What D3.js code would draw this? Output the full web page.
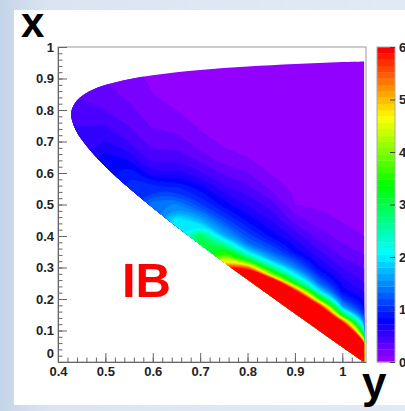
<!DOCTYPE html>
<html>
<head>
<meta charset="utf-8">
<script src="https://cdn.jsdelivr.net/npm/d3@7"></script>
<style>
  body { margin: 0; background: #dde6f1; }
  svg { display: block; }
</style>
</head>
<body>
<svg id="chart" width="405" height="411"></svg>
<script>
// horizontal axis is the "y" variable, vertical axis is the "x" variable
var colY = [0.40, 0.45, 0.50, 0.55, 0.60, 0.65, 0.70, 0.75, 0.80, 0.85, 0.90, 0.95, 1.00, 1.05];
var rowX = [0, 0.025, 0.05, 0.075, 0.1, 0.125, 0.15, 0.175, 0.2, 0.225, 0.25, 0.275, 0.3, 0.325,
            0.35, 0.375, 0.4, 0.45, 0.5, 0.55, 0.6, 0.65, 0.7, 0.75, 0.8, 0.85, 0.9, 0.95, 1.0];

// z, one list per column of colY (values along rowX)
var zGrid = [
  [0.6, 0.6, 0.6, 0.6, 0.6, 0.6, 0.6, 0.6, 0.6, 0.6, 0.6, 0.6, 0.6, 0.6, 0.6, 0.6, 0.6, 0.6, 0.6, 0.6, 0.6, 0.6, 0.6, 0.5, 0.42, 0.36, 0.32, 0.28, 0.25],
  [0.6, 0.6, 0.6, 0.6, 0.6, 0.6, 0.6, 0.6, 0.6, 0.6, 0.6, 0.6, 0.6, 0.6, 0.6, 0.6, 0.6, 0.6, 0.6, 0.6, 0.6, 0.6, 0.58, 0.47, 0.4, 0.34, 0.3, 0.27, 0.24],
  [0.78, 0.78, 0.78, 0.78, 0.78, 0.78, 0.78, 0.78, 0.78, 0.78, 0.78, 0.78, 0.78, 0.78, 0.78, 0.78, 0.78, 0.78, 0.78, 0.78, 0.78, 0.78, 0.6, 0.48, 0.36, 0.28, 0.23, 0.2, 0.17],
  [1.0, 1.0, 1.0, 1.0, 1.0, 1.0, 1.0, 1.0, 1.0, 1.0, 1.0, 1.0, 1.0, 1.0, 1.0, 1.0, 1.0, 1.0, 1.0, 1.0, 0.95, 0.66, 0.47, 0.35, 0.27, 0.21, 0.16, 0.13, 0.1],
  [1.4, 1.4, 1.4, 1.4, 1.4, 1.4, 1.4, 1.4, 1.4, 1.4, 1.4, 1.4, 1.4, 1.4, 1.4, 1.4, 1.4, 1.4, 1.42, 1.0, 0.6, 0.4, 0.3, 0.22, 0.16, 0.12, 0.1, 0.08, 0.06],
  [2.0, 2.0, 2.0, 2.0, 2.0, 2.0, 2.0, 2.0, 2.0, 2.0, 2.0, 2.0, 2.0, 2.0, 2.0, 2.0, 2.0, 2.05, 1.45, 1.0, 0.64, 0.43, 0.3, 0.19, 0.12, 0.09, 0.06, 0.05, 0.04],
  [3.0, 3.0, 3.0, 3.0, 3.0, 3.0, 3.0, 3.0, 3.0, 3.0, 3.0, 3.0, 3.0, 3.0, 3.0, 3.1, 2.9, 1.7, 1.1, 0.8, 0.5, 0.3, 0.16, 0.1, 0.08, 0.05, 0.04, 0.03, 0.02],
  [16, 15.5, 15, 14.5, 14, 13, 12, 11, 10, 9, 8, 7, 5.8, 4.5, 3.5, 2.5, 1.7, 1.15, 0.78, 0.53, 0.33, 0.15, 0.1, 0.07, 0.05, 0.04, 0.03, 0.03, 0.02],
  [30, 28.5, 27, 25, 23.5, 22, 20, 18, 16.5, 15, 13, 9, 5.4, 3.1, 1.95, 1.36, 1.15, 0.8, 0.58, 0.4, 0.25, 0.12, 0.09, 0.05, 0.04, 0.03, 0.03, 0.02, 0.02],
  [40, 38, 36, 33, 31, 28, 26, 23, 21, 15, 8, 4.3, 2.6, 1.7, 1.27, 1.03, 0.8, 0.59, 0.42, 0.21, 0.11, 0.08, 0.05, 0.04, 0.03, 0.03, 0.02, 0.02, 0.02],
  [40, 37, 33.5, 30, 27, 23.8, 20.5, 15, 9, 6, 3.2, 2.1, 1.47, 1.12, 0.8, 0.67, 0.55, 0.3, 0.12, 0.1, 0.07, 0.05, 0.04, 0.03, 0.03, 0.02, 0.02, 0.02, 0.02],
  [40, 35, 30, 25, 20, 14.5, 9, 6.5, 3.6, 2, 1.33, 1.0, 0.75, 0.62, 0.5, 0.4, 0.3, 0.17, 0.1, 0.08, 0.05, 0.04, 0.03, 0.03, 0.02, 0.02, 0.02, 0.02, 0.02],
  [40, 32, 24.4, 16.7, 9, 6, 3, 1.6, 1.1, 0.78, 0.67, 0.56, 0.47, 0.38, 0.3, 0.24, 0.19, 0.11, 0.08, 0.05, 0.04, 0.03, 0.03, 0.02, 0.02, 0.02, 0.02, 0.01, 0.01],
  [30, 16.7, 5.4, 2.7, 1.58, 1.22, 0.98, 0.78, 0.67, 0.56, 0.47, 0.4, 0.33, 0.27, 0.21, 0.15, 0.11, 0.085, 0.06, 0.05, 0.04, 0.03, 0.03, 0.02, 0.02, 0.02, 0.01, 0.01, 0.01]
];

// edge of the filled region
var edgeY    = [0.428, 0.43, 0.44, 0.45, 0.47, 0.50, 0.55, 0.60, 0.65, 0.70, 0.75, 0.80, 0.85, 0.90, 0.95, 1.00, 1.046];
var edgeLow  = [0.786, 0.765, 0.729, 0.706, 0.668, 0.621, 0.552, 0.490, 0.430, 0.373, 0.317, 0.262, 0.208, 0.154, 0.101, 0.048, 0];
var edgeHigh = [0.786, 0.805, 0.830, 0.844, 0.862, 0.879, 0.898, 0.910, 0.920, 0.927, 0.933, 0.938, 0.942, 0.946, 0.949, 0.952, 0.954];

var xTicks = [0.4, 0.5, 0.6, 0.7, 0.8, 0.9, 1.0];
var yTicks = [0, 0.1, 0.2, 0.3, 0.4, 0.5, 0.6, 0.7, 0.8, 0.9, 1.0];
var zTicks = [0, 1, 2, 3, 4, 5, 6];
var zMax = 6;
var nLevels = 50;

var font = '"Liberation Sans", Arial, Helvetica, sans-serif';
var svg = d3.select('#chart');
var defs = svg.append('defs');

// slide background
var bg = defs.append('linearGradient').attr('id', 'bg').attr('x1', 0).attr('x2', 1).attr('y1', 0).attr('y2', 0);
bg.append('stop').attr('offset', '0%').attr('stop-color', '#c5d4e9');
bg.append('stop').attr('offset', '12%').attr('stop-color', '#dbe5f1');
bg.append('stop').attr('offset', '100%').attr('stop-color', '#e1e9f4');
svg.append('rect').attr('width', 405).attr('height', 411).attr('fill', 'url(#bg)');
svg.append('rect').attr('x', 14).attr('y', 10).attr('width', 391).attr('height', 395).attr('fill', '#fff');

var plot = {left: 58, right: 366, top: 47, bottom: 362};
var sx = d3.scaleLinear().domain([0.4, 1.05]).range([plot.left, plot.right]);
var sy = d3.scaleLinear().domain([0, 1]).range([plot.bottom, plot.top]);
var colIdx = d3.scaleLinear().domain(d3.range(colY.length)).range(colY);
var rowIdx = d3.scaleLinear().domain(d3.range(rowX.length)).range(rowX);

function palette(i) {
  return d3.hsl(280 - (i + 1) * 280 / nLevels, 1, 0.5).formatHex();
}

// region outline -> clip
var outline = edgeY.map(function(y, i) { return [y, edgeLow[i]]; }).reverse()
  .concat(edgeY.slice(1).map(function(y, i) { return [y, edgeHigh[i + 1]]; }));
var outlineLine = d3.line()
  .x(function(d) { return sx(d[0]); })
  .y(function(d) { return sy(d[1]); })
  .curve(d3.curveCatmullRom.alpha(0.5));
defs.append('clipPath').attr('id', 'region')
  .append('path').attr('d', outlineLine(outline) + 'Z');
defs.append('filter').attr('id', 'soft').attr('x', -0.05).attr('y', -0.05).attr('width', 1.1).attr('height', 1.1)
  .append('feGaussianBlur').attr('stdDeviation', 0.5);

// filled contours
var values = [];
rowX.forEach(function(rx, j) {
  colY.forEach(function(cy, i) { values.push(zGrid[i][j]); });
});
var thresholds = d3.range(nLevels).map(function(i) { return i * zMax / nLevels; });
var bands = d3.contours().size([colY.length, rowX.length]).thresholds(thresholds)(values);

// contour rings -> pixels, smoothed a little so grid kinks don't show
var ringLine = d3.line().curve(d3.curveBasisClosed);
function bandPath(mp) {
  var d = '';
  mp.coordinates.forEach(function(poly) {
    poly.forEach(function(ring) {
      var pts = ring.slice(0, -1).map(function(p) {
        return [sx(colIdx(p[0] - 0.5)), sy(rowIdx(p[1] - 0.5))];
      });
      if (pts.length > 2) d += ringLine(pts);
    });
  });
  return d;
}

svg.append('g').attr('filter', 'url(#soft)')
  .append('g').attr('clip-path', 'url(#region)')
  .selectAll('path').data(bands).enter().append('path')
  .attr('d', bandPath)
  .attr('fill-rule', 'evenodd')
  .attr('fill', function(d, i) { return palette(i); })
  .attr('stroke', function(d, i) { return palette(i); })
  .attr('stroke-width', 0.6);

// frame
svg.append('rect')
  .attr('x', plot.left).attr('y', plot.top)
  .attr('width', plot.right - plot.left).attr('height', plot.bottom - plot.top)
  .attr('fill', 'none').attr('stroke', '#9a9a9a').attr('stroke-width', 1);

// axes (ticks inside, ROOT style)
function minorTicks(lo, hi, step) {
  return d3.range(Math.round((hi - lo) / step) + 1).map(function(k) { return +(lo + k * step).toFixed(3); });
}
var axisStroke = '#666';
svg.append('g').attr('transform', 'translate(0,' + plot.bottom + ')')
  .call(d3.axisBottom(sx).tickValues(minorTicks(0.4, 1.04, 0.02)).tickSize(-4.5).tickFormat('').tickSizeOuter(0))
  .call(function(g) { g.select('path.domain').remove(); });
var gx = svg.append('g').attr('transform', 'translate(0,' + plot.bottom + ')')
  .call(d3.axisBottom(sx).tickValues(xTicks).tickSize(-9).tickSizeOuter(0).tickPadding(5).tickFormat(d3.format('~g')));
svg.append('g').attr('transform', 'translate(' + plot.left + ',0)')
  .call(d3.axisLeft(sy).tickValues(minorTicks(0, 1, 0.02)).tickSize(-4.5).tickFormat('').tickSizeOuter(0))
  .call(function(g) { g.select('path.domain').remove(); });
var gy = svg.append('g').attr('transform', 'translate(' + plot.left + ',0)')
  .call(d3.axisLeft(sy).tickValues(yTicks).tickSize(-9).tickSizeOuter(0).tickPadding(4).tickFormat(d3.format('~g')));
gy.selectAll('.tick text').filter(function(d) { return d === 0; }).attr('dy', '-0.35em');

svg.selectAll('.tick line').attr('stroke', axisStroke);
[gx, gy].forEach(function(g) {
  g.selectAll('path.domain').attr('stroke', axisStroke);
  g.selectAll('text').attr('font-family', font).attr('font-size', 13)
    .attr('font-weight', 'bold').attr('fill', '#222');
});

// colour bar
var bar = {left: 377, right: 395};
var sz = d3.scaleLinear().domain([0, zMax]).range([plot.bottom, plot.top]);
svg.append('g').selectAll('rect').data(thresholds).enter().append('rect')
  .attr('x', bar.left).attr('width', bar.right - bar.left)
  .attr('y', function(t) { return sz(t + zMax / nLevels); })
  .attr('height', function(t) { return sz(t) - sz(t + zMax / nLevels) + 0.3; })
  .attr('fill', function(t, i) { return palette(i); });
svg.append('rect').attr('x', bar.left).attr('y', plot.top)
  .attr('width', bar.right - bar.left).attr('height', plot.bottom - plot.top)
  .attr('fill', 'none').attr('stroke', '#aaa').attr('stroke-width', 1);
var gz = svg.append('g').attr('transform', 'translate(' + bar.right + ',0)');
gz.call(d3.axisRight(sz).tickValues(zTicks).tickSize(-5).tickSizeOuter(0).tickPadding(4).tickFormat(d3.format('d')));
gz.select('path.domain').remove();
gz.selectAll('.tick line').attr('stroke', '#444');
gz.selectAll('text').attr('font-family', font).attr('font-size', 13)
  .attr('font-weight', 'bold').attr('fill', '#222');

// titles
svg.append('text').attr('x', 21).attr('y', 37).text('x')
  .attr('font-family', font).attr('font-size', 42).attr('font-weight', 'bold').attr('fill', '#000');
svg.append('text').attr('x', 362).attr('y', 398).text('y')
  .attr('font-family', font).attr('font-size', 44).attr('font-weight', 'bold').attr('fill', '#000');
svg.append('text').attr('x', 122).attr('y', 297).text('IB')
  .attr('font-family', font).attr('font-size', 49).attr('font-weight', 'bold').attr('fill', '#f00');
</script>
</body>
</html>
